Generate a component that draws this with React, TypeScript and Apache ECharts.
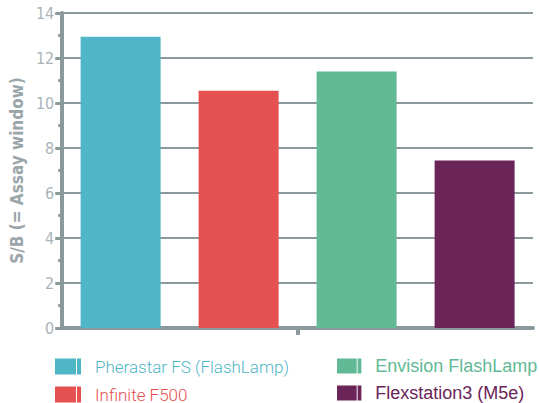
import React, { useEffect, useRef } from "react";
import * as echarts from "echarts";

const seriesNames = ["Pherastar FS (FlashLamp)", "Infinite F500", "Envision FlashLamp", "Flexstation3 (M5e)"];
const seriesValues = [12.95, 10.55, 11.4, 7.45];
const seriesColors = ["#4fb6c7", "#e55051", "#62b995", "#6b2458"];
const categories = [""];
const yTicks = { min: 0, max: 14, interval: 2 };
const yName = "S/B (= Assay window)";

const AXIS = "#8a999c";
const ICON_PATH = "path://M0,0H21V16H0Z M22,0H26V16H22Z";

export default function App() {
  const ref = useRef<HTMLDivElement>(null);
  useEffect(() => {
    if (!ref.current) return;
    const chart = echarts.init(ref.current, null, { renderer: "svg" });
    chart.setOption({
      animation: false,
      grid: { left: 61, right: 6, top: 13, bottom: 75, containLabel: false },
      xAxis: {
        type: "category",
        data: categories,
        axisLine: { lineStyle: { color: AXIS, width: 4 } },
        axisTick: { show: true, alignWithLabel: true, length: 7, lineStyle: { color: AXIS, width: 4 } },
        axisLabel: { show: false },
        splitLine: { show: false },
      },
      yAxis: {
        type: "value",
        min: yTicks.min,
        max: yTicks.max,
        interval: yTicks.interval,
        name: yName,
        nameLocation: "middle",
        nameGap: 32,
        nameTextStyle: {
          color: "#9aa6a9",
          fontFamily: "'DejaVu Sans Condensed', 'Liberation Sans', sans-serif",
          fontWeight: "bold",
          fontSize: 17,
        },
        axisLine: { show: true, lineStyle: { color: AXIS, width: 4 } },
        axisTick: { show: true, length: 7, lineStyle: { color: AXIS, width: 3 } },
        minorTick: { show: true, splitNumber: 2, length: 4, lineStyle: { color: AXIS, width: 3 } },
        axisLabel: {
          color: "#aab4b7",
          fontFamily: "'DejaVu Sans Condensed', 'Liberation Sans', sans-serif",
          fontSize: 16,
          margin: 8,
        },
        splitLine: { show: true, lineStyle: { color: AXIS, width: 2 } },
      },
      legend: [
        {
          orient: "vertical",
          left: 55,
          top: 358,
          itemWidth: 26,
          itemHeight: 16,
          itemGap: 11,
          padding: 0,
          data: [0, 1].map((i) => ({
            name: seriesNames[i],
            icon: ICON_PATH,
            textStyle: { color: seriesColors[i] },
          })),
          textStyle: {
            fontFamily: "Roboto, sans-serif",
            fontWeight: 300,
            fontSize: 17,
            padding: [0, 0, 0, 9],
          },
        },
        {
          orient: "vertical",
          left: 337,
          top: 357,
          itemWidth: 26,
          itemHeight: 15,
          itemGap: 9,
          padding: 0,
          data: [2, 3].map((i) => ({
            name: seriesNames[i],
            icon: ICON_PATH,
            textStyle: { color: seriesColors[i] },
          })),
          textStyle: {
            fontFamily: "'Liberation Sans', Arial, sans-serif",
            fontSize: 18,
            padding: [0, 0, 0, 8],
          },
        },
      ],
      series: seriesNames.map((name, i) => ({
        type: "bar",
        name,
        data: [seriesValues[i]],
        barWidth: 80,
        barGap: "47.5%",
        itemStyle: { color: seriesColors[i] },
      })),
    });
    return () => chart.dispose();
  }, []);
  return (
    <div
      ref={ref}
      style={{ position: "fixed", left: 0, top: 0, width: 539, height: 403, background: "#fff" }}
    />
  );
}
